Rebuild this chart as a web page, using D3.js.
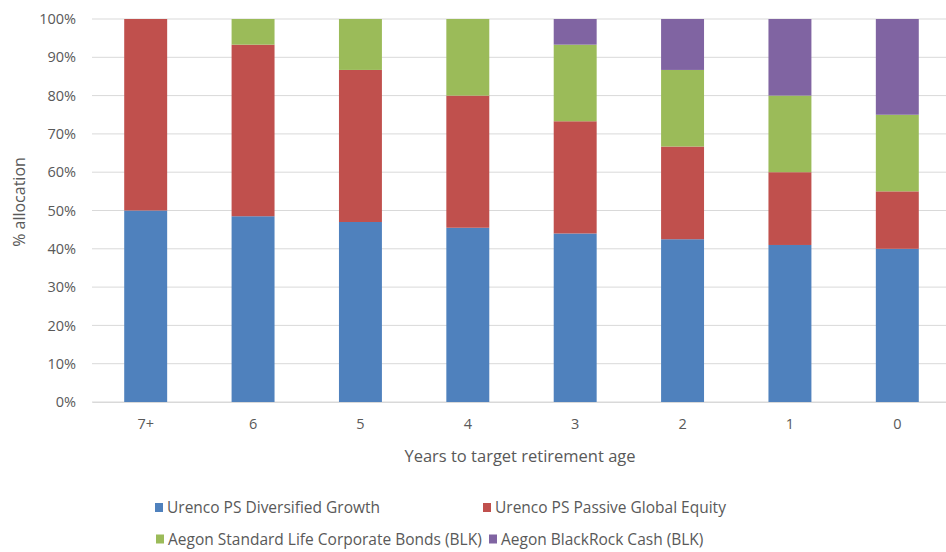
<!DOCTYPE html>
<html>
<head>
<meta charset="utf-8">
<script src="https://cdn.jsdelivr.net/npm/d3@7"></script>
<style>
  body { margin: 0; background: #fff; }
  text { font-family: "Open Sans", sans-serif; fill: #595959; }
</style>
</head>
<body>
<div id="chart"></div>
<script>
// datos del gráfico
const years = ["7+", "6", "5", "4", "3", "2", "1", "0"]
const seriesNames = [
  "Urenco PS Diversified Growth",
  "Urenco PS Passive Global Equity",
  "Aegon Standard Life Corporate Bonds (BLK)",
  "Aegon BlackRock Cash (BLK)"
]
const growth = [50, 48.5, 47, 45.5, 44, 42.5, 41, 40]
const equity = [50, 44.8, 39.7, 34.5, 29.3, 24.2, 19, 15]
const bonds = [0, 6.7, 13.3, 20, 20, 20, 20, 20]
const cash = [0, 0, 0, 0, 6.7, 13.3, 20, 25]
const yTicks = [0, 10, 20, 30, 40, 50, 60, 70, 80, 90, 100]
const colores = ["#4F81BD", "#C0504D", "#9BBB59", "#8064A2"]

const anchoTotal = 946
const altoTotal = 552
const margins = { left: 92, top: 19, right: -5, bottom: 150 }
const ancho = anchoTotal - margins.left - margins.right
const alto = altoTotal - margins.top - margins.bottom

const svg = d3.select("#chart")
  .append("svg")
  .attr("width", anchoTotal)
  .attr("height", altoTotal)

const g = svg.append("g")
  .attr("transform", `translate(${margins.left}, ${margins.top})`)

const tabla = years.map((yr, i) => ({
  year: yr, s0: growth[i], s1: equity[i], s2: bonds[i], s3: cash[i]
}))
const stack = d3.stack().keys(["s0", "s1", "s2", "s3"])(tabla)

const x = d3.scaleBand()
  .domain(years)
  .range([0, ancho])
  .paddingInner(0.6)
  .paddingOuter(0.3)

const y = d3.scaleLinear()
  .domain([0, 100])
  .range([alto, 0])

// rejilla
g.append("g")
  .selectAll("line")
  .data(yTicks)
  .join("line")
  .attr("x1", 0)
  .attr("x2", ancho)
  .attr("y1", (d) => y(d))
  .attr("y2", (d) => y(d))
  .attr("stroke", "#d9d9d9")
  .attr("stroke-width", 1)

// eje y
const yAxis = d3.axisLeft(y).tickValues(yTicks).tickFormat((d) => d + "%").tickSize(0).tickPadding(16)
g.append("g")
  .call(yAxis)
  .call((a) => a.select(".domain").remove())
  .selectAll("text")
  .style("font-size", "14.5px")
  .attr("fill", "#595959")

// barras
g.append("g")
  .selectAll("g")
  .data(stack)
  .join("g")
  .attr("fill", (d, i) => colores[i])
  .selectAll("rect")
  .data((d) => d)
  .join("rect")
  .attr("x", (d) => x(d.data.year))
  .attr("y", (d) => y(d[1]))
  .attr("width", x.bandwidth())
  .attr("height", (d) => y(d[0]) - y(d[1]))

// eje x
const xAxis = d3.axisBottom(x).tickSize(0).tickPadding(17)
const xAxisGroup = g.append("g")
  .attr("transform", `translate(0, ${alto})`)
  .call(xAxis)
xAxisGroup.select(".domain").attr("stroke", "#d9d9d9")
xAxisGroup.selectAll("text").style("font-size", "14.5px").attr("fill", "#595959")

// títulos
svg.append("text")
  .attr("x", 520)
  .attr("y", 462)
  .attr("text-anchor", "middle")
  .style("font-size", "16.5px")
  .text("Years to target retirement age")

svg.append("text")
  .attr("transform", `translate(25, 202) rotate(-90)`)
  .attr("text-anchor", "middle")
  .style("font-size", "16px")
  .text("% allocation")

// leyenda
const legPos = [[155, 507.5], [483, 507.5], [156, 539], [489, 539]]
const leyenda = svg.append("g")
  .selectAll("g")
  .data(seriesNames)
  .join("g")
  .attr("transform", (d, i) => `translate(${legPos[i][0]}, ${legPos[i][1]})`)
leyenda.append("rect")
  .attr("x", 0).attr("y", -4.5).attr("width", 8).attr("height", 9)
  .attr("fill", (d, i) => colores[i])
leyenda.append("text")
  .attr("x", 12).attr("y", 5.5)
  .style("font-size", "15.5px")
  .text((d) => d)
</script>
</body>
</html>
